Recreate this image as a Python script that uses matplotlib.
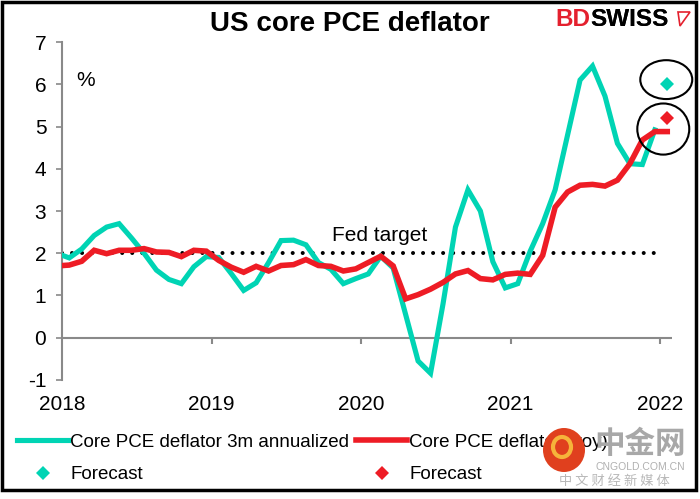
import numpy as np
import matplotlib
matplotlib.use("Agg")
from matplotlib import pyplot as plt
from matplotlib.patches import Ellipse, Rectangle, Polygon

plt.rcParams["font.family"] = ["Liberation Sans", "DejaVu Sans"]
plt.rcParams["axes.unicode_minus"] = False

TEAL = "#00D4B4"
RED = "#EE1C25"
GREY = "#898989"

# monthly values, Dec 2017 onwards
annualized_3m = [
    2.00,
    1.89, 2.10, 2.42, 2.62, 2.70, 2.36, 2.00, 1.60, 1.38, 1.28, 1.68, 1.92,
    1.90, 1.52, 1.12, 1.30, 1.78, 2.30, 2.31, 2.20, 1.78, 1.62, 1.28, 1.40,
    1.51, 1.93, 1.65, 0.55, -0.55, -0.84, 0.80, 2.62, 3.50, 3.00, 1.80, 1.18,
    1.28, 2.05, 2.70, 3.50, 4.80, 6.10, 6.43, 5.72, 4.60, 4.12, 4.10, 4.92,
]
yoy = [
    1.70,
    1.72, 1.81, 2.07, 1.99, 2.07, 2.07, 2.11, 2.03, 2.02, 1.92, 2.07, 2.05,
    1.83, 1.67, 1.55, 1.69, 1.58, 1.71, 1.73, 1.85, 1.71, 1.69, 1.58, 1.63,
    1.78, 1.93, 1.70, 0.92, 1.02, 1.15, 1.31, 1.51, 1.59, 1.40, 1.37, 1.50,
    1.53, 1.50, 1.95, 3.09, 3.45, 3.61, 3.63, 3.59, 3.73, 4.12, 4.68, 4.88,
    4.88,
]
forecast_3m = 6.0
forecast_yoy = 5.2
fed_target = 2.0
years = ["2018", "2019", "2020", "2021", "2022"]

# x in months since Jan 2018, points sit a bit after the start of the month
x_teal = np.arange(len(annualized_3m)) - 1 + 0.58
x_red = np.arange(len(yoy)) - 1 + 0.58
x_fc = x_red[-1]
year_pos = np.arange(len(years)) * 12

fig = plt.figure(figsize=(7.0, 4.99), dpi=100)
ax = fig.add_axes([0.0886, 0.2385, 0.8714, 0.6773])
ax.set_xlim(0, 48.96)
ax.set_ylim(-1, 7)

ax.plot([year_pos[0], year_pos[-1]], [fed_target, fed_target], color="black",
        lw=2.9, linestyle=(0, (0.01, 2.48)), dash_capstyle="round", zorder=2)
l1, = ax.plot(x_teal, annualized_3m, color=TEAL, lw=3.7, zorder=3,
              solid_joinstyle="miter", label="Core PCE deflator 3m annualized")
l2, = ax.plot(x_red, yoy, color=RED, lw=4.0, zorder=4,
              solid_joinstyle="miter", label="Core PCE deflator (yoy)")
f1, = ax.plot([x_fc], [forecast_3m], "D", color=TEAL, ms=7, mew=0,
              zorder=5, label="Forecast", clip_on=False)
f2, = ax.plot([x_fc], [forecast_yoy], "D", color=RED, ms=7, mew=0,
              zorder=5, label="Forecast", clip_on=False)

ax.add_patch(Ellipse((48.5, 6.11), 4.17, 0.92, fill=False, ec="black",
                     lw=1.5, clip_on=False, zorder=6))
ax.add_patch(Ellipse((48.26, 4.94), 4.17, 1.21, fill=False, ec="black",
                     lw=1.5, clip_on=False, zorder=6))

ax.text(25.5, 2.2, "Fed target", fontsize=15, ha="center", va="bottom")
ax.text(1.85, 6.1, "%", fontsize=15, ha="center", va="center")

# axes styling
for side in ("top", "right", "bottom"):
    ax.spines[side].set_visible(False)
ax.spines["left"].set_color(GREY)
ax.spines["left"].set_linewidth(1.5)
ax.axhline(0, color=GREY, lw=1.5, zorder=1)
ax.vlines(year_pos[1:], -0.14, 0, color=GREY, lw=1.5, zorder=1)
ax.set_yticks(range(-1, 8))
ax.tick_params(axis="y", direction="out", length=4.3, width=1.2,
               color=GREY, labelsize=15, pad=7)
ax.set_xticks(year_pos)
ax.set_xticklabels(years)
ax.tick_params(axis="x", length=0, labelsize=15, pad=11)

fig.legend([l1, f1, l2, f2],
           ["Core PCE deflator 3m annualized", "Forecast",
            "Core PCE deflator (yoy)", "Forecast"],
           ncol=2, loc="upper left", bbox_to_anchor=(17 / 700, 0.131),
           frameon=False, fontsize=13.5, handlelength=2.72,
           handletextpad=0.12, columnspacing=0.37, labelspacing=0.82,
           borderpad=0, borderaxespad=0)

fig.text(0.5, 1 - 31 / 499, "US core PCE deflator", fontsize=20,
         fontweight="bold", ha="center", va="baseline")
bd = fig.text(555 / 700, 1 - 26 / 499, "BD", fontsize=17.5,
              fontweight="bold", color="#E4202E", va="baseline")
fig.texts.append(plt.annotate("SWISS", xy=(1, 0), xycoords=bd,
                              fontsize=17.5, fontweight="bold", color="black",
                              va="bottom", ha="left", annotation_clip=False))
fig.patches.append(Polygon([[678 / 700, 1 - 12 / 499], [690 / 700, 1 - 12 / 499],
                            [680 / 700, 1 - 26 / 499]], closed=True,
                           transform=fig.transFigure, fc="none", ec="#E4202E",
                           lw=1.2))

# watermark of the re-publisher
fig.patches.append(Ellipse((564 / 700, 1 - 450 / 499), 42 / 700, 44 / 499,
                           transform=fig.transFigure, fc="#E0401E", ec="none",
                           zorder=10))
fig.patches.append(Ellipse((562 / 700, 1 - 447 / 499), 18 / 700, 20 / 499,
                           transform=fig.transFigure, fc="none", ec="#F6B33A",
                           lw=3, zorder=10))
fig.text(640 / 700, 1 - 444 / 499, "中金网", fontsize=22, color="#A8A8A8",
         fontweight="bold", ha="center", va="center",
         family=["Noto Sans CJK SC"], zorder=11)
fig.text(640 / 700, 1 - 467 / 499, "CNGOLD.COM.CN", fontsize=7.5,
         color="#B0B0B0", ha="center", va="center", zorder=11)
fig.text(614 / 700, 1 - 481 / 499, "中 文 财 经 新 媒 体", fontsize=9.5,
         color="#B8B8B8", ha="center", va="center",
         family=["Noto Sans CJK SC"], zorder=11)

fig.patches.append(Rectangle((2 / 700, 9 / 499), 694 / 700, 488.5 / 499,
                             transform=fig.transFigure, fill=False,
                             ec="black", lw=2.5))

fig.savefig("out.png", dpi=100)
